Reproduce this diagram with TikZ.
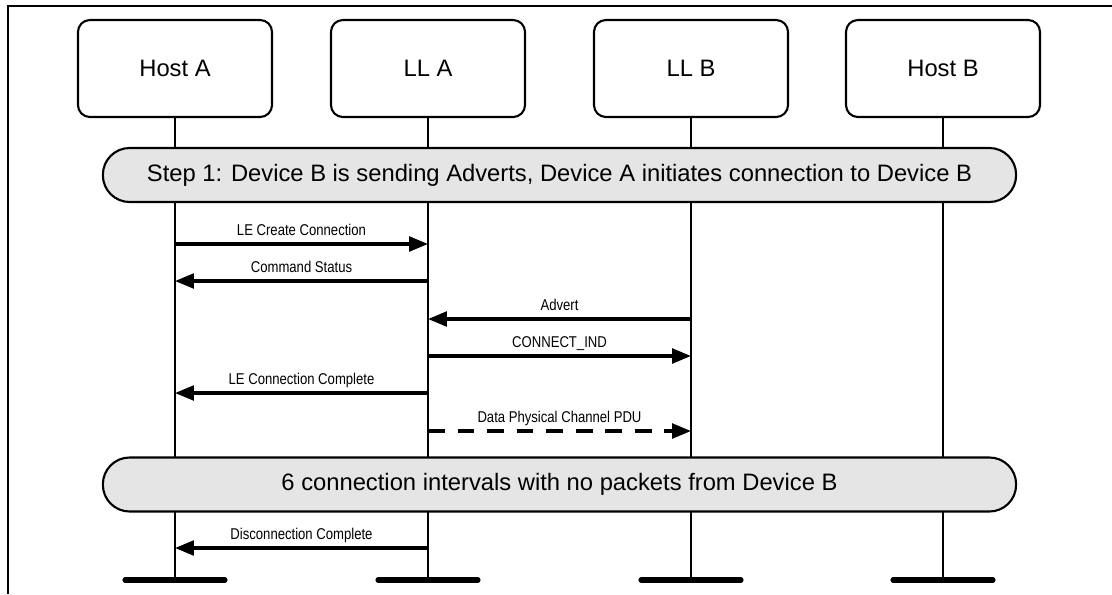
\documentclass[tikz,border=0pt]{standalone}
\usepackage{fontspec}
\setmainfont{Liberation Sans}
\newfontfamily\narrowfont[FakeStretch=0.84]{Liberation Sans}
\usepackage{tikz}
\usetikzlibrary{arrows.meta, positioning}

\tikzset{
    actor/.style={draw, line width=1.5pt, rounded corners=8.5pt,
        minimum width=4.85cm, minimum height=2.425cm,
        font=\fontsize{16.9}{20}\selectfont},
    phase/.style={draw, line width=1.5pt, fill=black!10, rounded corners=19pt,
        minimum width=22.825cm, minimum height=1.35cm,
        font=\fontsize{16.9}{20}\selectfont},
    life/.style={line width=1.5pt},
    lifebar/.style={line width=3.6pt, line cap=round},
    msg/.style={line width=2.3pt},
    lbl/.style={midway, above=5pt, inner sep=0pt, text depth=0pt,
        font=\narrowfont\fontsize{11.1}{13}\selectfont}
}

\begin{document}
\begin{tikzpicture}[x=0.025cm, y=-0.025cm, >={Triangle[length=13.5pt, width=10.5pt]}]
    \useasboundingbox (0,0) rectangle (1112,594);
    % 1. Khung
    \draw[line width=1.4pt] (8,594) -- (8,6) -- (1112,6);

    % 2. Các thực thể
    \node[actor] (hA)  at (175,68.5) {Host A};
    \node[actor] (llA) at (428,68.5) {LL A};
    \node[actor] (llB) at (691,68.5) {LL B};
    \node[actor] (hB)  at (943,68.5) {Host B};

    % 3. Đường sống
    \foreach \n/\x in {hA/175, llA/428, llB/691, hB/943} {
        \coordinate (\n-end) at (\x,580);
        \draw[life] (\n) -- (\n-end);
        \draw[lifebar] ([xshift=-1.25cm]\n-end) -- ([xshift=1.25cm]\n-end);
    }

    % 4. Các giai đoạn
    \node[phase] (step1) at (559.5,175) {Step 1: Device B is sending Adverts, Device A initiates connection to Device B};
    \node[phase] (quiet) at (559.5,484.5) {6 connection intervals with no packets from Device B};

    % 5. Các thông điệp
    \coordinate (m1) at (0,244);
    \coordinate (m2) at (0,281);
    \coordinate (m3) at (0,319);
    \coordinate (m4) at (0,356);
    \coordinate (m5) at (0,393);
    \coordinate (m6) at (0,431);
    \coordinate (m7) at (0,548);
    \draw[msg, ->] (hA |- m1) -- (llA |- m1) node[lbl] {LE Create Connection};
    \draw[msg, ->] (llA |- m2) -- (hA |- m2) node[lbl] {Command Status};
    \draw[msg, ->] (llB |- m3) -- (llA |- m3) node[lbl] {Advert};
    \draw[msg, ->] (llA |- m4) -- (llB |- m4) node[lbl] {CONNECT\_IND};
    \draw[msg, ->] (llA |- m5) -- (hA |- m5) node[lbl] {LE Connection Complete};
    \draw[msg, ->, dash pattern=on 12pt off 9pt] (llA |- m6) -- (llB |- m6) node[lbl] {Data Physical Channel PDU};
    \draw[msg, ->] (llA |- m7) -- (hA |- m7) node[lbl] {Disconnection Complete};
\end{tikzpicture}
\end{document}
